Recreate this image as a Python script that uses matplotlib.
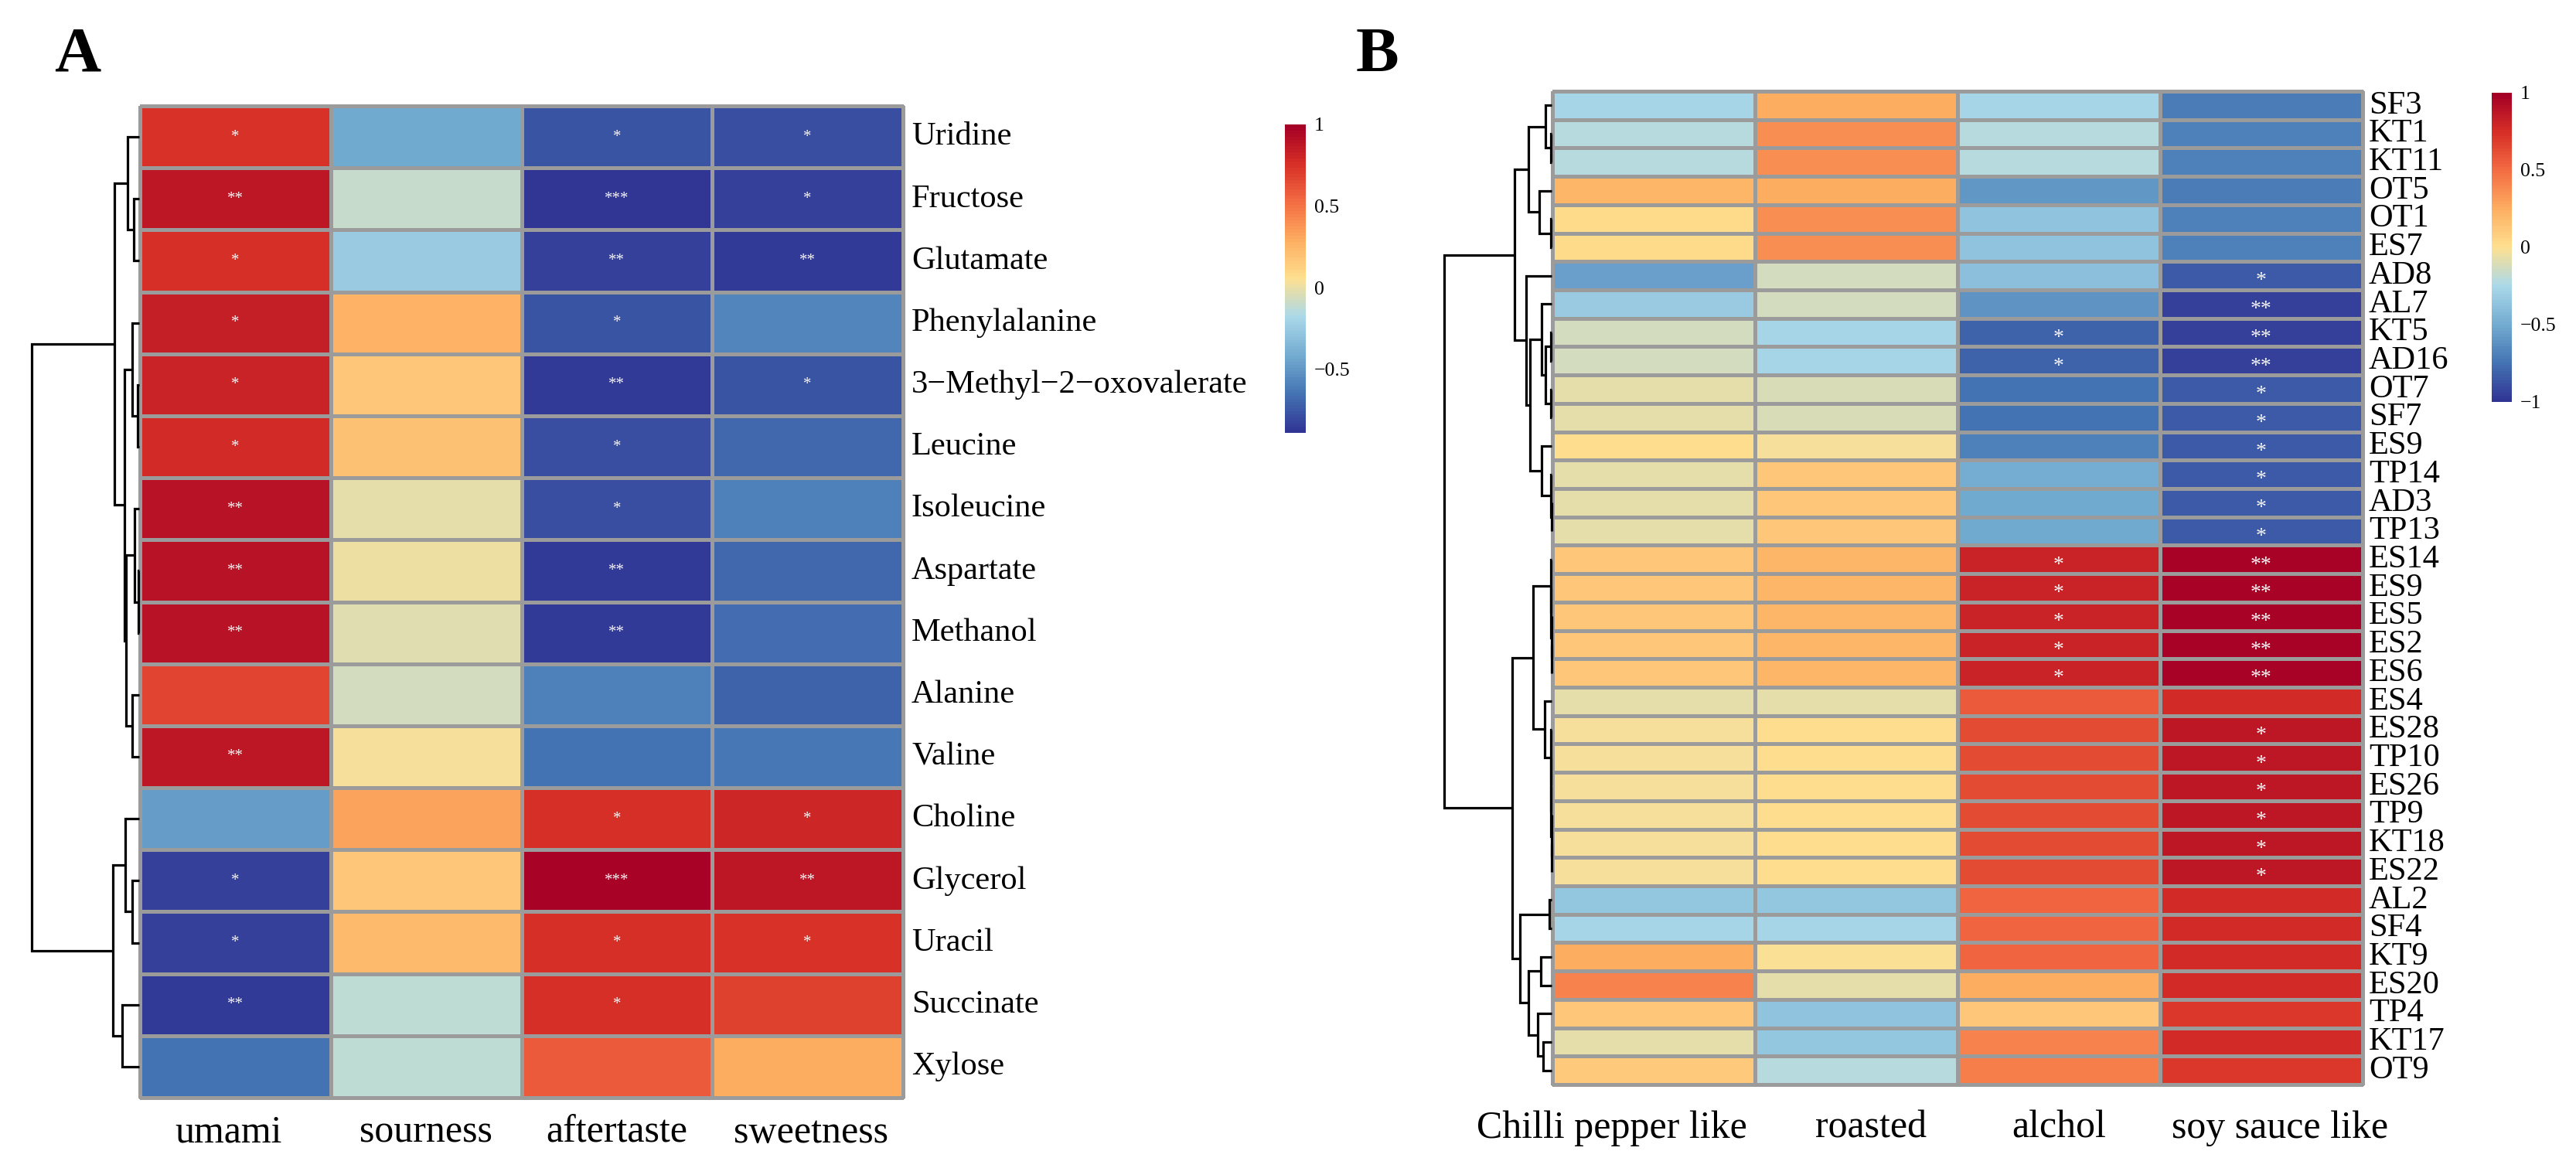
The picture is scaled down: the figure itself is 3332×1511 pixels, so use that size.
import numpy as np
import matplotlib
matplotlib.use("Agg")
import matplotlib.pyplot as plt
from matplotlib.colors import LinearSegmentedColormap, ListedColormap, Normalize
from matplotlib.cm import ScalarMappable
import matplotlib.transforms as mtrans

plt.rcParams['font.family'] = ['Liberation Serif', 'DejaVu Serif']

# ---------------- Panel A data ----------------
a_rows = ["Uridine", "Fructose", "Glutamate", "Phenylalanine", "3\u2212Methyl\u22122\u2212oxovalerate",
          "Leucine", "Isoleucine", "Aspartate", "Methanol", "Alanine", "Valine",
          "Choline", "Glycerol", "Uracil", "Succinate", "Xylose"]
a_cols = ["umami", "sourness", "aftertaste", "sweetness"]
a_umami      = [0.75, 0.88, 0.76, 0.83, 0.82, 0.79, 0.90, 0.89, 0.89, 0.67, 0.87, -0.49, -0.84, -0.84, -0.87, -0.65]
a_sourness   = [-0.42, -0.11, -0.25, 0.27, 0.17, 0.20, -0.01, 0.01, -0.03, -0.065, 0.02, 0.33, 0.18, 0.24, -0.12, -0.12]
a_aftertaste = [-0.76, -0.88, -0.85, -0.76, -0.86, -0.79, -0.78, -0.87, -0.87, -0.60, -0.66, 0.77, 0.97, 0.77, 0.76, 0.60]
a_sweetness  = [-0.78, -0.84, -0.86, -0.58, -0.77, -0.70, -0.60, -0.70, -0.67, -0.71, -0.64, 0.80, 0.88, 0.75, 0.68, 0.30]
a_star_umami      = ["*", "**", "*", "*", "*", "*", "**", "**", "**", "", "**", "", "*", "*", "**", ""]
a_star_sourness   = [""] * 16
a_star_aftertaste = ["*", "***", "**", "*", "**", "*", "*", "**", "**", "", "", "*", "***", "*", "*", ""]
a_star_sweetness  = ["*", "*", "**", "", "*", "", "", "", "", "", "", "*", "**", "*", "", ""]
a_range = (-0.89, 1.0)
a_ticks = [-0.5, 0, 0.5, 1]
a_ticklabels = ["\u22120.5", "0", "0.5", "1"]
# merges: (left, right, height); leaves 0..15 in displayed order
a_merges = [(1, 2, 7.3), (0, 16, 15.0), (4, 5, 1.7), (3, 18, 9.3), (7, 8, 1.5), (6, 20, 6.0),
            (9, 10, 9.3), (21, 22, 17.0), (19, 23, 19.0), (17, 24, 32.0), (12, 13, 9.3),
            (11, 26, 17.7), (14, 15, 22.3), (27, 28, 34.3), (25, 29, 139.0)]

# ---------------- Panel B data ----------------
b_rows = ["SF3", "KT1", "KT11", "OT5", "OT1", "ES7", "AD8", "AL7", "KT5", "AD16", "OT7", "SF7",
          "ES9", "TP14", "AD3", "TP13", "ES14", "ES9", "ES5", "ES2", "ES6", "ES4", "ES28", "TP10",
          "ES26", "TP9", "KT18", "ES22", "AL2", "SF4", "KT9", "ES20", "TP4", "KT17", "OT9"]
b_cols = ["Chilli pepper like", "roasted", "alchol", "soy sauce like"]
b_chilli  = [-0.28, -0.21, -0.21, 0.20, 0.02, 0.02, -0.55, -0.33, -0.14, -0.14, -0.07, -0.07,
             0.00, -0.07, -0.07, -0.07, 0.13, 0.13, 0.13, 0.13, 0.13, -0.07, -0.03, -0.03,
             -0.03, -0.03, -0.03, -0.03, -0.35, -0.28, 0.25, 0.40, 0.13, -0.07, 0.10]
b_roasted = [0.25, 0.36, 0.36, 0.25, 0.36, 0.36, -0.13, -0.14, -0.27, -0.27, -0.12, -0.12,
             -0.03, 0.13, 0.13, 0.13, 0.20, 0.20, 0.20, 0.20, 0.20, -0.07, 0.00, 0.00,
             0.00, 0.00, 0.00, 0.00, -0.35, -0.28, -0.01, -0.07, -0.38, -0.35, -0.21]
b_alchol  = [-0.28, -0.21, -0.21, -0.60, -0.38, -0.38, -0.40, -0.61, -0.80, -0.80, -0.75, -0.75,
             -0.68, -0.50, -0.52, -0.52, 0.80, 0.80, 0.80, 0.80, 0.80, 0.57, 0.63, 0.63,
             0.63, 0.63, 0.63, 0.63, 0.52, 0.52, 0.52, 0.25, 0.12, 0.40, 0.43]
b_soy     = [-0.72, -0.70, -0.70, -0.72, -0.70, -0.69, -0.85, -0.95, -0.96, -0.96, -0.86, -0.86,
             -0.86, -0.86, -0.86, -0.86, 0.97, 0.97, 0.97, 0.97, 0.97, 0.77, 0.87, 0.87,
             0.87, 0.87, 0.87, 0.87, 0.77, 0.77, 0.77, 0.77, 0.71, 0.77, 0.71]
b_star_chilli  = [""] * 35
b_star_roasted = [""] * 35
b_star_alchol  = [""] * 8 + ["*", "*"] + [""] * 6 + ["*"] * 5 + [""] * 14
b_star_soy     = [""] * 6 + ["*", "**", "**", "**", "*", "*", "*", "*", "*", "*",
                             "**", "**", "**", "**", "**", "", "*", "*", "*", "*", "*", "*",
                             "", "", "", "", "", "", ""]
b_range = (-1.0, 1.0)
b_ticks = [-1, -0.5, 0, 0.5, 1]
b_ticklabels = ["\u22121", "\u22120.5", "0", "0.5", "1"]
b_merges = [(1, 2, 0.5), (0, 35, 8.0), (4, 5, 0.5), (3, 37, 16.0), (36, 38, 30.3),
            (8, 9, 0.5), (10, 11, 0.5), (40, 41, 8.0), (7, 42, 13.0), (14, 15, 0.3),
            (13, 44, 0.6), (12, 45, 13.0), (43, 46, 27.7), (6, 47, 33.0), (39, 48, 47.7),
            (19, 20, 0.2), (18, 50, 0.4), (17, 51, 0.6), (16, 52, 0.8),
            (26, 27, 0.2), (25, 54, 0.4), (24, 55, 0.6), (23, 56, 0.8), (22, 57, 1.0),
            (21, 58, 9.3), (53, 59, 24.3), (28, 29, 3.0), (33, 34, 11.3), (32, 62, 17.7),
            (30, 31, 14.3), (64, 63, 30.3), (61, 65, 41.0), (60, 66, 51.0), (49, 67, 138.7)]

# ---------------- styling ----------------
W, H = 3332, 1511
DPI = 100
stops = ['#313695', '#4575B4', '#74ADD1', '#ABD9E9', '#FEE090', '#FDAE61', '#F46D43', '#D73027', '#A50026']
cmap = ListedColormap(LinearSegmentedColormap.from_list('rdylbu9', stops)(np.linspace(0, 1, 100)))
GRID = '#9B9B9B'
a_col_label_dx = [-9, 0, 0, 4]       # pixel nudges of column labels (layout)
b_col_label_dx = [-54, 19, 0, 24]

fig = plt.figure(figsize=(W / DPI, H / DPI), dpi=DPI)


def px_axes(x0, y0, x1, y1):
    return fig.add_axes([x0 / W, 1 - y1 / H, (x1 - x0) / W, (y1 - y0) / H])


def draw_heat(box, mat, stars, rows, cols, rng, star_size, star_dy, label_x, col_base, col_dx):
    ax = px_axes(*box)
    norm = Normalize(*rng)
    n, m = mat.shape
    mesh = ax.pcolormesh(np.arange(m + 1), np.arange(n + 1), mat, cmap=cmap, norm=norm,
                         edgecolors=GRID, linewidth=2.2)
    mesh.set_clip_on(False)
    ax.set_xlim(0, m)
    ax.set_ylim(n, 0)
    ax.axis('off')
    for i in range(n):
        for j in range(m):
            s = stars[i][j]
            if s:
                ax.text(j + 0.5, i + 0.5 + star_dy, s, ha='center', va='center',
                        fontsize=star_size, color='#F4F4F4')
    # row labels
    tr_rows = mtrans.blended_transform_factory(fig.transFigure, ax.transData)
    for i, r in enumerate(rows):
        ax.text(label_x / W, i + 0.5, r, transform=tr_rows, ha='left', va='center',
                fontsize=30.5)
    tr_cols = mtrans.blended_transform_factory(ax.transData, fig.transFigure)
    for j, c in enumerate(cols):
        off = mtrans.ScaledTranslation(col_dx[j] / DPI, 0, fig.dpi_scale_trans)
        ax.text(j + 0.5, 1 - col_base / H, c, transform=tr_cols + off, ha='center',
                va='baseline', fontsize=36)
    return ax, norm


def draw_dendro(box, merges, n):
    ax = px_axes(*box)
    pos = {i: i + 0.5 for i in range(n)}
    hgt = {i: 0.0 for i in range(n)}
    for k, (a, b, h) in enumerate(merges):
        ya, yb = pos[a], pos[b]
        ax.plot([hgt[a], h, h, hgt[b]], [ya, ya, yb, yb], color='black', lw=2.3,
                solid_capstyle='butt', solid_joinstyle='miter', clip_on=False)
        pos[n + k] = (ya + yb) / 2
        hgt[n + k] = h
    ax.set_xlim(merges[-1][2], 0)
    ax.set_ylim(n, 0)
    ax.axis('off')


def draw_cbar(box, norm, ticks, labels):
    cax = px_axes(*box)
    cb = fig.colorbar(ScalarMappable(norm=norm, cmap=cmap), cax=cax, ticks=ticks)
    cb.outline.set_visible(False)
    cb.set_ticklabels(labels)
    cax.tick_params(length=0, pad=8, labelsize=18.5)


# Panel A
a_mat = np.array([a_umami, a_sourness, a_aftertaste, a_sweetness]).T
a_stars = list(zip(a_star_umami, a_star_sourness, a_star_aftertaste, a_star_sweetness))
axA, normA = draw_heat((181, 137, 1168, 1420), a_mat, a_stars, a_rows, a_cols, a_range,
                       15, 0.0, 1179, 1478, a_col_label_dx)
draw_dendro((41, 137, 180, 1420), a_merges, len(a_rows))
draw_cbar((1662, 161, 1689, 560), normA, a_ticks, a_ticklabels)

# Panel B
b_mat = np.array([b_chilli, b_roasted, b_alchol, b_soy]).T
b_stars = list(zip(b_star_chilli, b_star_roasted, b_star_alchol, b_star_soy))
axB, normB = draw_heat((2008, 118, 3056, 1403), b_mat, b_stars, b_rows, b_cols, b_range,
                       20, 0.2, 3064, 1472, b_col_label_dx)
draw_dendro((1868, 118, 2007, 1403), b_merges, len(b_rows))
draw_cbar((3223, 120, 3249, 520), normB, b_ticks, b_ticklabels)

# Panel letters
fig.text(100 / W, 1 - 92 / H, "A", ha='center', va='baseline', fontsize=60, fontweight='bold')
fig.text(1781 / W, 1 - 92 / H, "B", ha='center', va='baseline', fontsize=60, fontweight='bold')

fig.savefig("out.png", dpi=DPI, facecolor='white')
